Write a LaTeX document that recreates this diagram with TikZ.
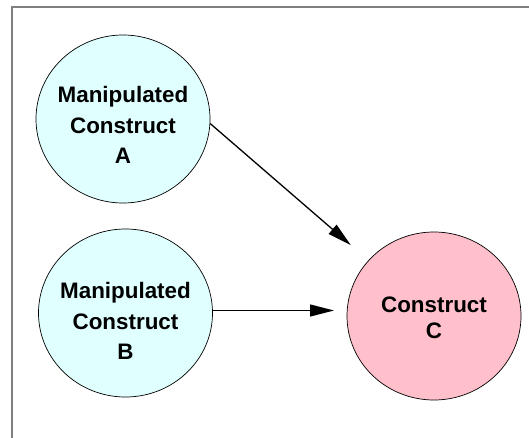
\documentclass[tikz,border=0pt]{standalone}
\usepackage{fontspec}
\setmainfont{Liberation Sans}
\usetikzlibrary{arrows.meta,shapes.geometric}
\definecolor{cyanlight}{HTML}{E0FFFF}
\definecolor{pinklight}{HTML}{FFC0CB}
\definecolor{framegray}{HTML}{7F7F7F}
\begin{document}
\begin{tikzpicture}[x=1pt,y=1pt,
  bubble/.style={ellipse, draw=black, line width=0.7pt, minimum width=174pt, minimum height=168pt, inner sep=0pt},
  manip/.style={bubble, fill=cyanlight},
  target/.style={bubble, fill=pinklight},
  txt/.style={align=center, inner sep=0pt, font=\fontsize{22.4}{30.8}\selectfont\bfseries},
  txtc/.style={align=center, inner sep=0pt, font=\fontsize{22.4}{26.6}\selectfont\bfseries},
  link/.style={-{Triangle[length=24pt,width=12pt]}, line width=1.3pt},
  framed/.style={draw=framegray, line width=2pt}]
\useasboundingbox (0,0) rectangle (529,437);
\clip (0,0) rectangle (529,437);
\draw[framed] (12,-20) rectangle (560,430);
\node[manip] (A) at (123,318) {};
\node[manip] (B) at (125.5,124) {};
\node[target] (C) at (434,121) {};
\node[txt] (At) at (123,312) {Manipulated\\Construct\\A};
\node[txt] (Bt) at (125.5,116) {Manipulated\\Construct\\B};
\node[txtc] (Ct) at (434,119.2) {Construct\\C};
\coordinate (ca) at (350.7,192);
\coordinate (cb) at (334,126.5);
\draw[link] (A.-3.5) -- (ca);
\draw[link] (B.east |- cb) -- (cb);
\end{tikzpicture}
\end{document}
